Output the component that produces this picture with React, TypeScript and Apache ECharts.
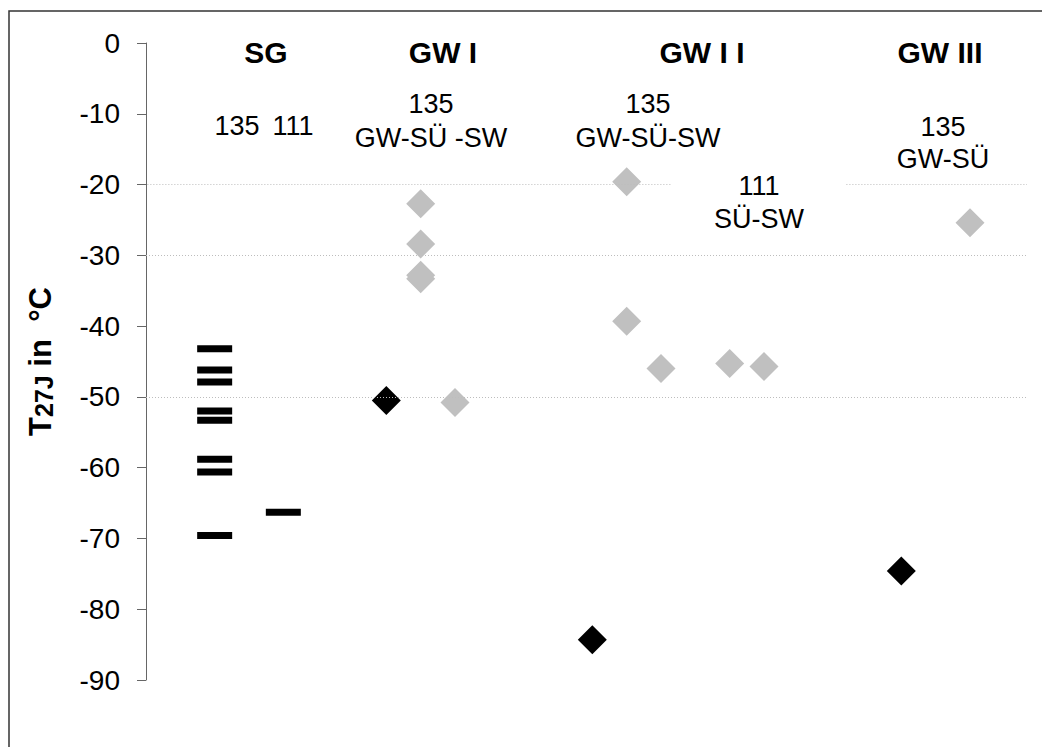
import React, { useEffect, useRef } from "react";
import * as echarts from "echarts";

// ---- data ----
const yTicks = [0, -10, -20, -30, -40, -50, -60, -70, -80, -90];
const groupTitles = ["SG", "GW I", "GW I I", "GW III"];
const groupSubLabels = ["135", "111", "135\nGW-SÜ -SW", "135\nGW-SÜ-SW", "111\nSÜ-SW", "135\nGW-SÜ"];

// column positions (index along a hidden horizontal value axis)
const colSG135 = 2;
const colSG111 = 4;
// SG: individual values (dashes)
const sg135Values = [-43.2, -46.2, -47.9, -52.0, -53.3, -58.8, -60.6, -69.6];
const sg111Values = [-66.3];

// black diamonds: [column, value]
const blackCols = [7, 13, 22];
const blackValues = [-50.5, -84.3, -74.6];

// grey diamonds: [column, value]
const greyCols = [8, 8, 8, 8, 9, 14, 14, 15, 17, 18, 24];
const greyValues = [-22.7, -28.4, -32.8, -33.3, -50.8, -19.6, -39.3, -46.0, -45.3, -45.7, -25.4];

const FONT = '"Liberation Sans", Arial, Helvetica, sans-serif';

export default function App() {
  const ref = useRef<HTMLDivElement>(null);

  useEffect(() => {
    document.body.style.margin = "0";
    const chart = echarts.init(ref.current!, null, { renderer: "svg" });
    const xMax = 25.66;

    const dashData = [
      ...sg135Values.map((v) => [colSG135, v]),
      ...sg111Values.map((v) => [colSG111, v]),
    ];
    const blackData = blackCols.map((c, i) => [c, blackValues[i]]);
    const greyData = greyCols.map((c, i) => [c, greyValues[i]]);

    const gridLineStyle = { type: [1, 2] as any, color: "#bdbdbd", width: 1 };

    const txt = (text: string, x: number, y: number, bold: boolean, lh: number) => ({
      type: "text",
      x,
      y,
      z: 10,
      style: {
        text,
        fill: "#000",
        fontSize: bold ? 30 : 27,
        fontWeight: bold ? "bold" : "normal",
        fontFamily: FONT,
        align: "center",
        verticalAlign: "middle",
        lineHeight: lh,
      },
    });

    chart.setOption({
      animation: false,
      backgroundColor: "#fff",
      grid: { left: 146, right: 15, top: 43, bottom: 67, containLabel: false },
      xAxis: {
        type: "value",
        min: 0,
        max: xMax,
        show: false,
      },
      yAxis: {
        type: "value",
        min: -90,
        max: 0,
        interval: 10,
        axisLine: { show: true, lineStyle: { color: "#666", width: 1 } },
        axisTick: { show: true, length: 9, inside: false, lineStyle: { color: "#666" } },
        axisLabel: {
          color: "#000",
          fontSize: 28,
          fontFamily: FONT,
          margin: 26,
          formatter: (v: number) => (yTicks.includes(v) ? String(v) : ""),
        },
        splitLine: { show: false },
        name: "{b|T}{s|27J}{b| in  °C}",
        nameLocation: "middle",
        nameRotate: 90,
        nameGap: 90,
        nameTextStyle: {
          fontSize: 31,
          fontWeight: "bold",
          rich: {
            b: { fontSize: 31, fontWeight: "bold", fontFamily: FONT, color: "#000", verticalAlign: "bottom" },
            s: { fontSize: 25, fontWeight: "bold", fontFamily: FONT, color: "#000", verticalAlign: "bottom" },
          },
        },
      },
      series: [
        {
          type: "scatter",
          name: "grid",
          data: [],
          silent: true,
          markLine: {
            silent: true,
            symbol: ["none", "none"],
            label: { show: false },
            lineStyle: gridLineStyle,
            data: [
              { yAxis: -30 },
              { yAxis: -50 },
              [{ coord: [0.04, -20] }, { coord: [15.33, -20] }],
              [{ coord: [20.4, -20] }, { coord: [xMax, -20] }],
            ],
          },
        },
        {
          type: "scatter",
          name: "SG",
          symbol: "rect",
          symbolSize: [35, 7],
          itemStyle: { color: "#000", opacity: 1 },
          data: dashData,
        },
        {
          type: "scatter",
          name: "grey",
          symbol: "diamond",
          symbolSize: 29,
          itemStyle: { color: "#c0c0c0", opacity: 1 },
          data: greyData,
        },
        {
          type: "scatter",
          name: "black",
          symbol: "diamond",
          symbolSize: 29,
          itemStyle: { color: "#000", opacity: 1 },
          data: blackData,
        },
      ],
      graphic: [
        {
          type: "rect",
          shape: { x: 9, y: 11, width: 1100, height: 800 },
          style: { fill: "none", stroke: "#333", lineWidth: 1.5 },
          silent: true,
          z: 10,
        },
        txt(groupTitles[0], 266, 52, true, 30),
        txt(groupTitles[1], 443, 52, true, 30),
        txt(groupTitles[2], 702, 52, true, 30),
        txt(groupTitles[3], 940, 52, true, 30),
        txt(groupSubLabels[0], 237, 126, false, 30),
        txt(groupSubLabels[1], 293, 126, false, 30),
        txt(groupSubLabels[2], 431, 121, false, 34),
        txt(groupSubLabels[3], 648, 121, false, 34),
        txt(groupSubLabels[4], 759, 202.5, false, 33),
        txt(groupSubLabels[5], 943, 143, false, 32),
      ],
    });

    return () => chart.dispose();
  }, []);

  return <div ref={ref} style={{ width: 1042, height: 747 }} />;
}
